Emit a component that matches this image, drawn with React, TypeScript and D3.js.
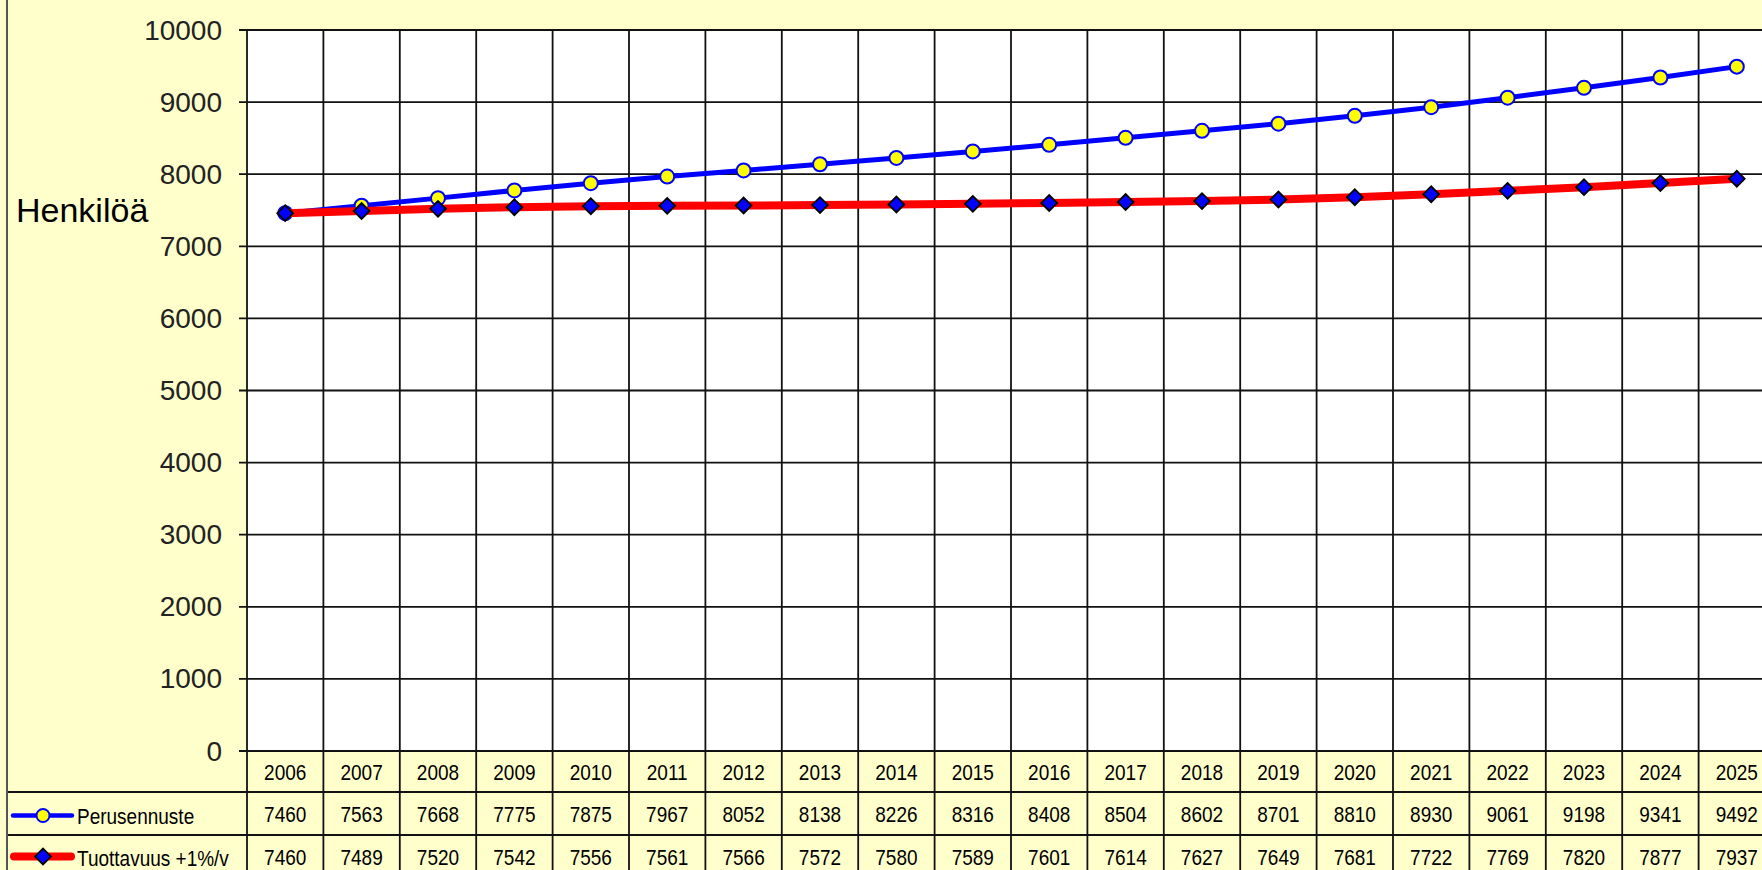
import React from 'react';
import * as d3 from 'd3';

const years = ['2006', '2007', '2008', '2009', '2010', '2011', '2012', '2013', '2014', '2015',
  '2016', '2017', '2018', '2019', '2020', '2021', '2022', '2023', '2024', '2025'];
const perusennuste = [7460, 7563, 7668, 7775, 7875, 7967, 8052, 8138, 8226, 8316,
  8408, 8504, 8602, 8701, 8810, 8930, 9061, 9198, 9341, 9492];
const tuottavuus = [7460, 7489, 7520, 7542, 7556, 7561, 7566, 7572, 7580, 7589,
  7601, 7614, 7627, 7649, 7681, 7722, 7769, 7820, 7877, 7937];
const yTicks = [0, 1000, 2000, 3000, 4000, 5000, 6000, 7000, 8000, 9000, 10000];
const seriesNames = ['Perusennuste', 'Tuottavuus +1%/v'];

const W = 1762;
const H = 870;
const FONT = '"Liberation Sans", Arial, sans-serif';
const BG = '#ffffcc';

const App: React.FC = () => {
  const left = 247;
  const colW = 76.4;
  const top = 30;
  const bottom = 751;
  const rowH = [41, 43, 43];

  const x = d3.scaleBand<string>().domain(years).range([left, left + colW * years.length]);
  const y = d3.scaleLinear().domain([0, 10000]).range([bottom, top]);
  const cx = (i: number) => (x(years[i]) ?? 0) + x.bandwidth() / 2;

  const line = d3.line<number>().x((_, i) => cx(i)).y(d => y(d));
  const diamond = d3.symbol().type(d3.symbolSquare).size(125);

  const rowTops = [bottom, bottom + rowH[0], bottom + rowH[0] + rowH[1]];
  const rowBottoms = rowTops.map((t, i) => t + rowH[i]);
  const colEdges = d3.range(years.length + 1).map(k => left + colW * k);
  const right = left + colW * years.length;

  const tableText = (tx: number, ty: number, s: string, anchor = 'middle') => (
    <text
      transform={`translate(${tx},${ty}) scale(1,1.15)`}
      textAnchor={anchor}
      dominantBaseline="central"
      fontFamily={FONT}
      fontSize={19}
      fill="#000"
    >{s}</text>
  );

  return (
    <div style={{ position: 'fixed', left: 0, top: 0 }}>
      <svg width={W} height={H} style={{ display: 'block' }}>
        <rect x={0} y={0} width={W} height={H} fill={BG} />
        {/* plot area */}
        <rect x={left} y={top} width={right - left} height={bottom - top} fill="#fff" />
        <line x1={left} x2={right} y1={top} y2={top} stroke="#888" strokeWidth={1.5} />

        {/* horizontal gridlines + ticks */}
        {yTicks.map(t => (
          <g key={t}>
            <line x1={left - 8} x2={right} y1={y(t)} y2={y(t)} stroke="#111" strokeWidth={1.8} />
            <text
              x={222}
              y={y(t)}
              textAnchor="end"
              dominantBaseline="central"
              fontFamily={FONT}
              fontSize={28}
              fill="#222"
            >{t}</text>
          </g>
        ))}

        {/* vertical gridlines through plot and table */}
        {colEdges.map((cxEdge, k) => (
          <line key={k} x1={cxEdge} x2={cxEdge} y1={top} y2={H} stroke="#111" strokeWidth={1.8} />
        ))}

        {/* table horizontal lines */}
        <line x1={8} x2={right} y1={rowBottoms[0]} y2={rowBottoms[0]} stroke="#111" strokeWidth={1.8} />
        <line x1={8} x2={right} y1={rowBottoms[1]} y2={rowBottoms[1]} stroke="#111" strokeWidth={1.8} />

        {/* outer left border */}
        <line x1={7} x2={7} y1={0} y2={H} stroke="#555" strokeWidth={2} />

        <text x={16} y={222} fontFamily={FONT} fontSize={34} fill="#000">Henkilöä</text>

        {/* series */}
        <path d={line(perusennuste) ?? ''} fill="none" stroke="#0000ff" strokeWidth={5} />
        {perusennuste.map((v, i) => (
          <circle key={i} cx={cx(i)} cy={y(v)} r={7} fill="#ffff00" stroke="#0000ff" strokeWidth={2} />
        ))}
        <path d={line(tuottavuus) ?? ''} fill="none" stroke="#ff0000" strokeWidth={8} />
        {tuottavuus.map((v, i) => (
          <path
            key={i}
            d={diamond() ?? ''}
            transform={`translate(${cx(i)},${y(v)}) rotate(45)`}
            fill="#0000ff"
            stroke="#000"
            strokeWidth={1.8}
          />
        ))}

        {/* data table */}
        {years.map((yr, i) => (
          <g key={yr}>
            {tableText(cx(i), (rowTops[0] + rowBottoms[0]) / 2, yr)}
            {tableText(cx(i), (rowTops[1] + rowBottoms[1]) / 2, String(perusennuste[i]))}
            {tableText(cx(i), (rowTops[2] + rowBottoms[2]) / 2, String(tuottavuus[i]))}
          </g>
        ))}

        {/* legend keys */}
        <line x1={13} x2={72} y1={(rowTops[1] + rowBottoms[1]) / 2 + 2} y2={(rowTops[1] + rowBottoms[1]) / 2 + 2}
          stroke="#0000ff" strokeWidth={4.5} strokeLinecap="round" />
        <circle cx={43} cy={(rowTops[1] + rowBottoms[1]) / 2 + 2} r={6.5} fill="#ffff00" stroke="#0000ff" strokeWidth={2} />
        {tableText(77, (rowTops[1] + rowBottoms[1]) / 2 + 2, seriesNames[0], 'start')}

        <line x1={14} x2={71} y1={(rowTops[2] + rowBottoms[2]) / 2} y2={(rowTops[2] + rowBottoms[2]) / 2}
          stroke="#ff0000" strokeWidth={8} strokeLinecap="round" />
        <path
          d={diamond() ?? ''}
          transform={`translate(43,${(rowTops[2] + rowBottoms[2]) / 2}) rotate(45)`}
          fill="#0000ff"
          stroke="#000"
          strokeWidth={1.8}
        />
        {tableText(77, (rowTops[2] + rowBottoms[2]) / 2 + 1, seriesNames[1], 'start')}
      </svg>
    </div>
  );
};

export default App;
